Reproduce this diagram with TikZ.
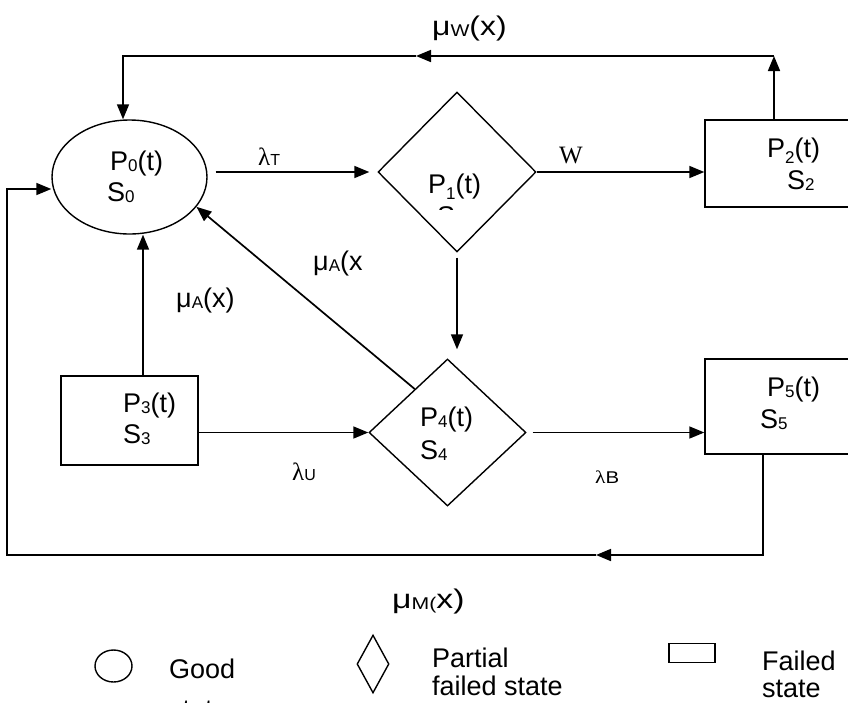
\documentclass[tikz,border=0pt]{standalone}
\usepackage{graphicx}
\usepackage{fontspec}
\setmainfont{Liberation Sans}
\newfontfamily\serifgr{Liberation Serif}
\usetikzlibrary{arrows.meta,shapes.geometric,calc}
\newcommand{\dsub}[1]{\raisebox{-1.5pt}{\fontsize{17}{17}\selectfont #1}}
\newcommand{\lsub}[1]{\raisebox{-6pt}{\fontsize{17}{17}\selectfont #1}}
\newcommand{\lam}{{\serifgr\fontsize{25}{25}\selectfont λ}}
\begin{document}
\begin{tikzpicture}[x=1pt,y=-1pt,
  lbl/.style={inner sep=0pt, anchor=base west, font=\fontsize{27}{27}\selectfont},
  conn/.style={line width=1.7pt},
  arr/.style={conn, -{Triangle[length=15pt,width=12pt]}},
  shp/.style={draw, line width=1.4pt, inner sep=0pt}
]
\useasboundingbox (0,0) rectangle (848,702);
\clip (0,0) rectangle (848,702);
\fill[white] (0,0) rectangle (848,702);

% states
\node[shp, ellipse, minimum width=155pt, minimum height=114pt] (P0) at (129.5,177) {};
\node[shp, diamond, minimum width=158pt, minimum height=160pt] (P1) at (457,172) {};
\node[shp, rectangle, minimum width=165pt, minimum height=87pt] (P2) at (787.5,163.5) {};
\node[shp, rectangle, minimum width=137pt, minimum height=89pt] (P3) at (129.5,420.5) {};
\node[shp, diamond, minimum width=157pt, minimum height=147pt] (P4) at (447.5,432.5) {};
\node[shp, rectangle, minimum width=165pt, minimum height=95pt] (P5) at (787.5,406.5) {};

% state texts
\node[lbl] (t0a) at (110,170) {P\dsub{0}(t)};
\node[lbl] (t0b) at (107,201) {S\dsub{0}};
\node[lbl] (t1a) at (428,193) {P\lsub{1}(t)};
\begin{scope}
  \clip (400,150) rectangle (520,209);
  \node[lbl] (t1b) at (437,225) {S\lsub{1}};
\end{scope}
\node[lbl] (t2a) at (767,157) {P\lsub{2}(t)};
\node[lbl] (t2b) at (787,189) {S\dsub{2}};
\node[lbl] (t3a) at (123,412) {P\dsub{3}(t)};
\node[lbl] (t3b) at (123,443) {S\dsub{3}};
\node[lbl] (t4a) at (420,426) {P\dsub{4}(t)};
\node[lbl] (t4b) at (420,459) {S\dsub{4}};
\node[lbl] (t5a) at (767,396) {P\dsub{5}(t)};
\node[lbl] (t5b) at (760,428) {S\dsub{5}};

% connectors
\draw[arr] ($(P0.east |- P1.west)+(8,0)$) -- ($(P1.west)+(-8,0)$);
\draw[arr] (P1.east) -- (P1.east -| P2.west);

\coordinate (tr) at (774,56);
\coordinate (tm) at (416,56);
\coordinate (tl) at (123,56);
\draw[arr] (P2.north -| tr) -- (tr);
\draw[arr] (tr) -- (tm);
\draw[arr] (tm) -- (tl) -- (tl |- P0.north);

\draw[arr] ($(P1.south)+(0,5)$) -- ($(P1.south |- P4.north)+(0,-9)$);
\draw[arr] (P4.127) -- (P0.-24);
\coordinate (c3) at ($(P3.north)+(13.5,0)$);
\draw[arr] (c3) -- (c3 |- P0.south);
\draw[arr] (P3.east |- P4.west) -- (P4.west);
\draw[arr] ($(P4.east)+(6,0)$) -- (P4.east -| P5.west);

\coordinate (br) at (763,555);
\coordinate (bm) at (596,555);
\coordinate (bl) at (7,555);
\coordinate (lu) at (7,189);
\draw[arr] (P5.south -| br) -- (br) -- (bm);
\draw[arr] (bm) -- (bl) -- (lu) -- (lu -| P0.west);

% rate labels
\node[lbl] (lw) at (432,35) {\scalebox{1.18}[1]{μ\dsub{W}(x)}};
\node[lbl] (lt) at (258,165) {\lam{\fontsize{16}{16}\selectfont T}};
\node[lbl, font=\serifgr\fontsize{25}{25}\selectfont] (lW) at (559,163) {W};
\node[lbl] (la1) at (313,270) {μ\dsub{A}(x};
\node[lbl] (la2) at (176,307) {μ\dsub{A}(x)};
\node[lbl] (lu2) at (292,480) {\lam{\fontsize{16}{16}\selectfont U}};
\node[lbl] (lb) at (595,483) {\scalebox{1.2}[1]{{\serifgr\fontsize{18}{18}\selectfont λ}{\fontsize{17}{17}\selectfont B}}};
\node[lbl] (lm) at (392,608) {\scalebox{1.25}[1]{μ\dsub{M(}x)}};

% legend
\node[shp, ellipse, minimum width=37pt, minimum height=32pt] (lg0) at (113.5,666) {};
\node[shp, diamond, minimum width=32pt, minimum height=58pt] (lg1) at (373,664) {};
\node[shp, rectangle, minimum width=46pt, minimum height=19pt] (lg2) at (692,653) {};
\node[lbl] (g1) at (169,678) {Good};
\node[lbl] (g2) at (169,718) {state};
\node[lbl] (p1) at (432,667) {Partial};
\node[lbl] (p2) at (432,695) {failed state};
\node[lbl] (f1) at (762,670) {Failed};
\node[lbl] (f2) at (762,697) {state};
\end{tikzpicture}
\end{document}
